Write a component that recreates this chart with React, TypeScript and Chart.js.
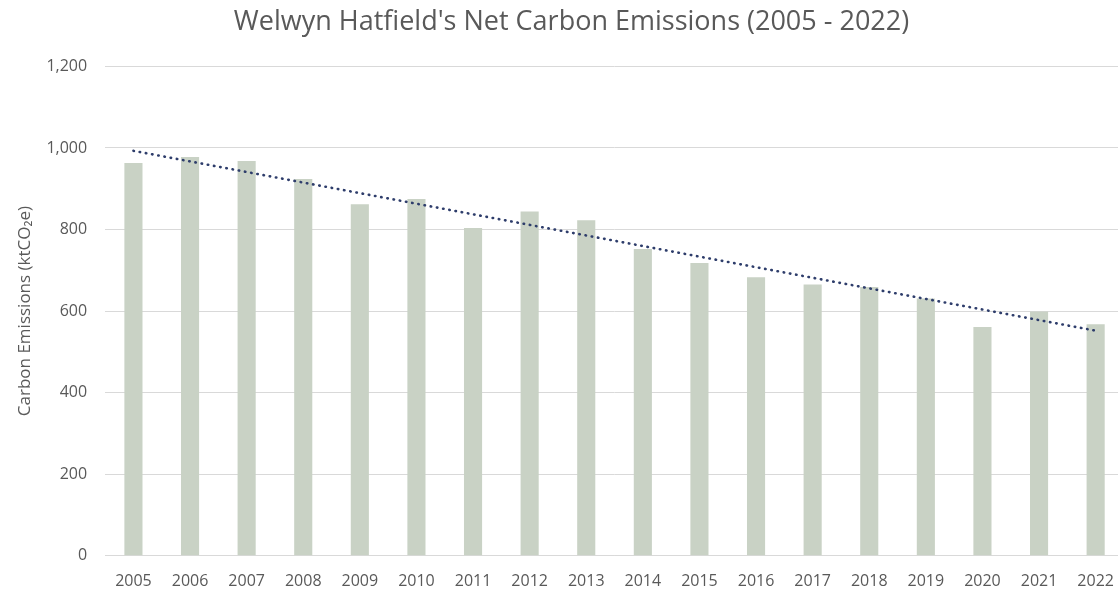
import React, { useEffect, useRef } from "react";
import { Chart, registerables } from "chart.js";

Chart.register(...registerables);

const years = ["2005","2006","2007","2008","2009","2010","2011","2012","2013","2014","2015","2016","2017","2018","2019","2020","2021","2022"];
const emissions = [963, 978, 968, 924, 862, 875, 804, 844, 823, 752, 718, 683, 665, 659, 631, 561, 599, 568];
const trend = [993, null, null, null, null, null, null, null, null, null, null, null, null, null, null, null, null, 552];
const yTicks = [0, 200, 400, 600, 800, 1000, 1200];

const titleText = "Welwyn Hatfield's Net Carbon Emissions (2005 - 2022)";
const yTitle = "Carbon Emissions (ktCO\u2082e)";

export default function App() {
  const ref = useRef<HTMLCanvasElement | null>(null);
  useEffect(() => {
    if (!ref.current) return;
    const font = "'Open Sans', sans-serif";
    const chart = new Chart(ref.current, {
      type: "bar",
      data: {
        labels: years,
        datasets: [
          {
            type: "line",
            label: "Trend",
            data: trend as any,
            borderColor: "#2e3d6b",
            borderWidth: 2.6,
            borderDash: [0.5, 5.8],
            borderCapStyle: "round",
            pointRadius: 0,
            spanGaps: true,
            fill: false,
            order: 0,
          } as any,
          {
            type: "bar",
            label: "Emissions",
            data: emissions,
            backgroundColor: "#c9d2c5",
            barPercentage: 0.32,
            categoryPercentage: 1,
            order: 1,
          },
        ],
      },
      options: {
        responsive: true,
        maintainAspectRatio: false,
        animation: false,
        layout: { padding: { left: 15, right: 2, top: 0, bottom: -17 } },
        plugins: {
          legend: { display: false },
          tooltip: { enabled: false },
          title: {
            display: true,
            text: titleText,
            color: "#595959",
            font: { family: font, size: 27, weight: "normal" },
            padding: { top: 6, bottom: 28 },
          },
        },
        scales: {
          x: {
            grid: { display: false, drawTicks: false },
            border: { display: true, color: "#d9d9d9", width: 1 },
            ticks: {
              color: "#595959",
              font: { family: font, size: 16 },
              padding: 16,
              maxRotation: 0,
              autoSkip: false,
            },
          },
          y: {
            min: 0,
            max: 1200,
            afterBuildTicks: (axis: any) => {
              axis.ticks = yTicks.map((v) => ({ value: v }));
            },
            grid: { color: "#d9d9d9", drawTicks: false },
            border: { display: false },
            ticks: {
              color: "#595959",
              font: { family: font, size: 16 },
              padding: 18,
              callback: (v: any) => Number(v).toLocaleString("en-US"),
            },
            title: {
              display: true,
              text: yTitle,
              color: "#595959",
              font: { family: font, size: 17 },
              padding: { top: 0, bottom: -7 },
            },
          },
        },
      },
    });
    return () => chart.destroy();
  }, []);
  return (
    <div style={{ position: "fixed", left: 0, top: 0, width: 1118, height: 590, overflow: "hidden", background: "#fff" }}>
      <div style={{ position: "relative", width: 1130, height: 590 }}>
        <canvas ref={ref} />
      </div>
    </div>
  );
}
